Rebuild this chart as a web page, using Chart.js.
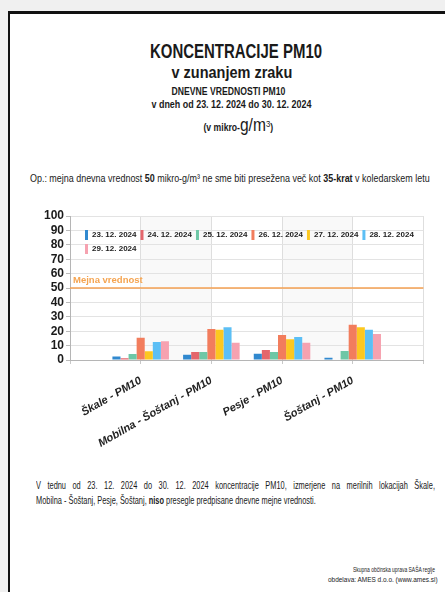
<!DOCTYPE html>
<html><head><meta charset="utf-8">
<script src="https://cdn.jsdelivr.net/npm/chart.js@4.4.1/dist/chart.umd.min.js"></script>
<style>
html,body{margin:0;padding:0;width:445px;height:592px;background:#f0f0f0;overflow:hidden;font-family:'Liberation Sans',Arial,sans-serif;color:#1a1a1a}
#card{position:absolute;left:8px;top:11px;width:445px;height:600px;background:#fff;border-left:2px solid #111;border-top:3px solid #111}
.t{position:absolute;white-space:nowrap;line-height:1;left:0;top:0}
#chartBox{position:absolute;left:20px;top:200px;width:420px;height:260px}
</style></head>
<body>
<div id="card"></div>
<div class="t" data-x="236" data-y="51" data-w="172" data-a="c" style="font-size:20px;font-weight:bold">KONCENTRACIJE PM10</div>
<div class="t" data-x="232" data-y="72" data-w="121" data-a="c" style="font-size:17px;font-weight:bold">v zunanjem zraku</div>
<div class="t" data-x="228" data-y="91" data-w="114" data-a="c" style="font-size:11px;font-weight:bold">DNEVNE VREDNOSTI PM10</div>
<div class="t" data-x="231" data-y="104.5" data-w="160" data-a="c" style="font-size:11px;font-weight:bold">v dneh od 23. 12. 2024 do 30. 12. 2024</div>
<div class="t" data-x="238" data-y="125" data-w="70" data-a="c" style="font-size:10px;font-weight:bold">(v mikro-<span style="font-size:18px;font-weight:normal">g/m</span><sup style="font-size:9px;font-weight:normal">3</sup>)</div>
<div class="t" data-x="230" data-y="178" data-w="400" data-a="c" style="font-size:11px">Op.: mejna dnevna vrednost <b>50</b> mikro-g/m³ ne sme biti presežena več kot <b>35-krat</b> v koledarskem letu</div>
<div class="t" id="p2" data-x="36" data-y="501" data-w="280" data-a="l" style="font-size:11.5px">Mobilna - Šoštanj, Pesje, Šoštanj, <b>niso</b> presegle predpisane dnevne mejne vrednosti.</div>
<div class="t" data-x="36" data-y="486" data-w="399" data-same="p2" data-a="l" style="font-size:11.5px">V tednu od 23. 12. 2024 do 30. 12. 2024 koncentracije PM10, izmerjene na merilnih lokacijah Škale,</div>
<div class="t" data-x="435" data-y="569" data-w="82" data-a="r" style="font-size:7px">Skupna občinska uprava SAŠA regije</div>
<div class="t" data-x="438" data-y="579" data-w="110" data-a="r" style="font-size:7px">obdelava: AMES d.o.o. (www.ames.si)</div>
<div id="chartBox"><canvas id="c"></canvas></div>
<script>
// ---- data ----
const categories = ['Škale - PM10', 'Mobilna - Šoštanj - PM10', 'Pesje - PM10', 'Šoštanj - PM10'];
const dateLabels = ['23. 12. 2024', '24. 12. 2024', '25. 12. 2024', '26. 12. 2024', '27. 12. 2024', '28. 12. 2024', '29. 12. 2024'];
const pm_23 = [2.5, 3.7, 4.4, 1.6];
const pm_24 = [1.3, 5.5, 7.0, null];
const pm_25 = [4.2, 5.5, 5.5, 6.2];
const pm_26 = [15.5, 21.5, 17.4, 24.5];
const pm_27 = [6.0, 21.0, 14.4, 22.7];
const pm_28 = [12.5, 22.7, 16.0, 21.0];
const pm_29 = [13.0, 12.0, 12.0, 18.0];
const limitValue = 50;
const limitLabel = 'Mejna vrednost';
const yMin = 0, yMax = 100, yStep = 10;

// ---- styles ----
const seriesColors = ['#3189cf', '#e4666c', '#6ec7a6', '#f27d5d', '#fcc820', '#5cbff5', '#f6a2b0'];
const FONT = "'Liberation Sans',Arial,sans-serif";

// fit html texts (justified first line of paragraph: same horizontal scale, wider word spacing)
const scaleOf = {};
document.querySelectorAll('.t').forEach(el => {
  let w = el.offsetWidth;
  const h = el.offsetHeight;
  const target = parseFloat(el.dataset.w);
  let k;
  if (el.dataset.same) {
    k = scaleOf[el.dataset.same];
    const spaces = (el.textContent.match(/ /g) || []).length;
    const extra = (target / k - w) / spaces;
    el.style.wordSpacing = extra.toFixed(3) + 'px';
    w = el.offsetWidth;
  } else {
    k = target / w;
  }
  if (el.id) scaleOf[el.id] = k;
  const x = parseFloat(el.dataset.x), y = parseFloat(el.dataset.y);
  const a = el.dataset.a;
  const left = a === 'c' ? x - w / 2 : a === 'l' ? x : x - w;
  el.style.transformOrigin = a === 'c' ? 'center center' : a === 'l' ? 'left center' : 'right center';
  el.style.left = left + 'px';
  el.style.top = (y - h / 2) + 'px';
  el.style.transform = 'scaleX(' + k.toFixed(4) + ')';
});

const seriesData = [pm_23, pm_24, pm_25, pm_26, pm_27, pm_28, pm_29];
const xLabels = ['', ...categories, ''];
const pad = arr => [null, ...arr, null];

const datasets = seriesData.map((arr, i) => ({
  type: 'bar',
  label: dateLabels[i],
  data: pad(arr),
  backgroundColor: seriesColors[i],
  borderWidth: 0,
  categoryPercentage: 0.8,
  barPercentage: 1.0,
  order: 2
}));
datasets.push({
  type: 'line',
  label: limitLabel,
  data: xLabels.map(() => limitValue),
  borderColor: '#f4a152',
  borderWidth: 1.5,
  pointRadius: 0,
  fill: false,
  order: 1
});

const bandsPlugin = {
  id: 'bands',
  beforeDraw(chart) {
    const {ctx, chartArea: a, scales: {x}} = chart;
    ctx.save();
    ctx.fillStyle = 'rgba(0,0,0,0.025)';
    [[1, 2], [3, 4]].forEach(([s, e]) => {
      const x0 = x.getPixelForValue(s), x1 = x.getPixelForValue(e);
      ctx.fillRect(x0, a.top, x1 - x0, a.bottom - a.top);
    });
    ctx.restore();
  }
};
const limitTextPlugin = {
  id: 'limitText',
  afterDatasetsDraw(chart) {
    const {ctx, chartArea: a, scales: {y}} = chart;
    const py = y.getPixelForValue(limitValue);
    ctx.save();
    ctx.font = 'bold 9.5px ' + FONT;
    ctx.fillStyle = '#f5a450';
    ctx.textAlign = 'left';
    ctx.textBaseline = 'bottom';
    ctx.fillText(limitLabel, a.left + 3, py - 3);
    ctx.restore();
  }
};
// legend lives inside the plot area: takes no layout space, then moved into it
const legendInside = {
  id: 'legendInside',
  beforeLayout(chart) {
    const lg = chart.legend;
    if (lg && !lg._patched) {
      const fit = lg.fit;
      lg.fit = function () { fit.call(this); this.height = 0; };
      lg._patched = true;
    }
  },
  afterLayout(chart) {
    const lg = chart.legend, a = chart.chartArea;
    if (lg) {
      lg.left = a.left + 11; lg.right = a.right;
      lg.top = a.top + 10; lg.bottom = a.bottom;
      lg.width = lg.right - lg.left; lg.height = lg.bottom - lg.top;
    }
  }
};

new Chart(document.getElementById('c'), {
  data: { labels: xLabels, datasets },
  plugins: [bandsPlugin, limitTextPlugin, legendInside],
  options: {
    responsive: true,
    maintainAspectRatio: false,
    animation: false,
    layout: { padding: { left: 0, right: 8, top: 16, bottom: 0 } },
    plugins: {
      title: { display: false },
      tooltip: { enabled: false },
      legend: {
        position: 'top',
        align: 'start',
        fullSize: false,
        labels: {
          boxWidth: 3, boxHeight: 10, padding: 4,
          color: '#222',
          font: { family: FONT, size: 8, weight: 'bold' },
          filter: item => item.text !== limitLabel
        }
      }
    },
    scales: {
      x: {
        type: 'category',
        offset: false,
        grid: { offset: false, color: '#dedede', tickLength: 4, tickColor: '#c8c8c8' },
        border: { color: '#b5b5b5' },
        ticks: {
          autoSkip: false, maxRotation: 30, minRotation: 30, padding: 10,
          color: '#222',
          font: { family: FONT, size: 11, weight: 'bold', style: 'italic' }
        },
        afterFit(s) { s.height = 100; }
      },
      y: {
        min: yMin, max: yMax,
        grid: { color: '#e3e3e3', tickLength: 4, tickColor: '#bbb' },
        border: { color: '#b5b5b5' },
        ticks: {
          stepSize: yStep, autoSkip: false, padding: 2, color: '#1a1a1a',
          font: { family: FONT, size: 12, weight: 'bold' }
        },
        afterFit(s) { s.width = 50; }
      }
    }
  }
});
</script>
</body></html>
